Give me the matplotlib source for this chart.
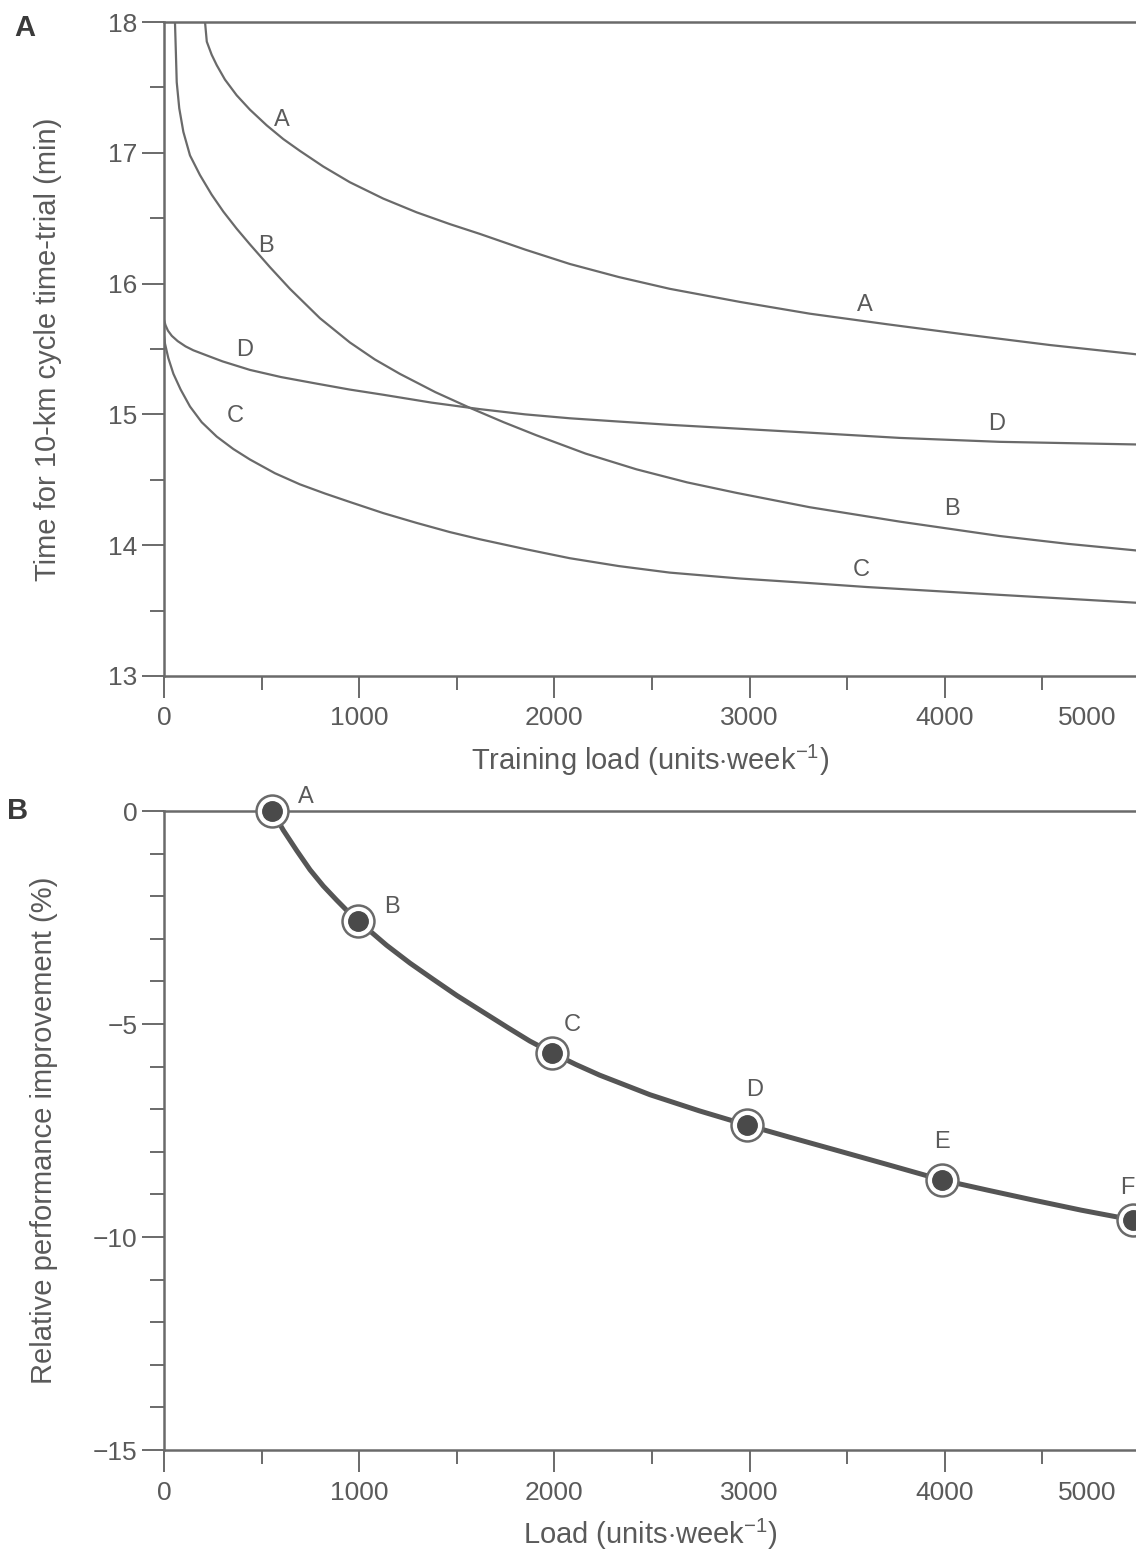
import matplotlib
matplotlib.use("Agg")

import matplotlib.pyplot as plt
from matplotlib.ticker import MultipleLocator

# ── Panel A: time-trial curves ────────────────────────────────────────────────
load_a = [210, 219, 244, 270, 312, 372, 440, 526, 611, 696, 816, 952, 1123, 1294,
          1464, 1618, 1850, 2079, 2330, 2591, 2950, 3308, 3700, 4110, 4540, 4977]
time_a = [18.0, 17.85, 17.75, 17.67, 17.56, 17.44, 17.33, 17.21, 17.105, 17.015, 16.895,
          16.775, 16.65, 16.545, 16.455, 16.38, 16.26, 16.15, 16.05, 15.96, 15.86, 15.77,
          15.69, 15.61, 15.53, 15.46]

load_b = [56, 61, 65, 78, 99, 133, 184, 244, 304, 372, 440, 543, 645, 799, 952, 1080,
          1208, 1390, 1567, 1740, 1908, 2160, 2420, 2680, 2932, 3308, 3769, 4281, 4630, 4977]
time_b = [18.0, 17.75, 17.54, 17.34, 17.16, 16.98, 16.83, 16.68, 16.55, 16.42, 16.30,
          16.125, 15.96, 15.735, 15.55, 15.42, 15.31, 15.17, 15.05, 14.94, 14.84, 14.70,
          14.58, 14.48, 14.40, 14.29, 14.18, 14.07, 14.01, 13.96]

load_c = [0, 5, 22, 48, 85, 133, 193, 270, 355, 440, 568, 696, 824, 952, 1123, 1294,
          1464, 1618, 1850, 2079, 2330, 2591, 2950, 3308, 3598, 3940, 4281, 4630, 4977]
time_c = [15.60, 15.54, 15.43, 15.31, 15.19, 15.06, 14.94, 14.83, 14.735, 14.655, 14.55,
          14.465, 14.395, 14.33, 14.245, 14.17, 14.10, 14.045, 13.97, 13.90, 13.84, 13.79,
          13.745, 13.71, 13.68, 13.65, 13.62, 13.59, 13.56]

load_d = [0, 8, 20, 40, 70, 110, 150, 220, 300, 440, 600, 782, 950, 1123, 1370, 1618,
          1850, 2079, 2330, 2591, 2950, 3308, 3769, 4281, 4977]
time_d = [15.72, 15.68, 15.64, 15.60, 15.56, 15.52, 15.49, 15.45, 15.405, 15.34, 15.285,
          15.235, 15.19, 15.15, 15.09, 15.04, 15.00, 14.97, 14.945, 14.92, 14.89, 14.86,
          14.82, 14.79, 14.77]

curve_names = ["A", "B", "C", "D"]
# two label anchors per curve (load, time)
label_load = {"A": [602, 3590], "B": [520, 4035], "C": [364, 3574], "D": [415, 4265]}
label_time = {"A": [17.25, 15.84], "B": [16.29, 14.28], "C": [14.99, 13.81], "D": [15.49, 14.93]}

# ── Panel B: relative improvement ─────────────────────────────────────────────
point_names = ["A", "B", "C", "D", "E", "F"]
point_load = [555, 995, 1990, 2985, 3985, 4965]
point_improve = [0.0, -2.58, -5.68, -7.37, -8.66, -9.60]

line_load = [555, 611, 680, 748, 816, 884, 940, 995, 1140, 1260, 1379, 1500, 1635,
             1760, 1874, 1990, 2110, 2232, 2490, 2744, 2985, 3200, 3427, 3700, 3985,
             4220, 4451, 4700, 4965]
line_improve = [0.0, -0.45, -0.93, -1.38, -1.76, -2.09, -2.35, -2.58, -3.15, -3.57,
                -3.95, -4.33, -4.72, -5.08, -5.40, -5.68, -5.95, -6.20, -6.66, -7.04,
                -7.37, -7.65, -7.94, -8.29, -8.66, -8.90, -9.13, -9.37, -9.60]

# label offsets in points (style, not data)
point_offsets = [(24, 10), (24, 10), (14, 20), (6, 25), (0, 27), (-4, 23)]

INK = "#5a5a5a"
LINE = "#6a6a6a"
DARK = "#4a4a4a"

plt.rcParams["font.family"] = ["Liberation Sans", "DejaVu Sans"]
plt.rcParams["mathtext.fontset"] = "custom"
plt.rcParams["mathtext.rm"] = "Liberation Sans"
plt.rcParams["text.color"] = INK
plt.rcParams["axes.labelcolor"] = INK
plt.rcParams["xtick.color"] = LINE
plt.rcParams["ytick.color"] = LINE
plt.rcParams["xtick.labelcolor"] = INK
plt.rcParams["ytick.labelcolor"] = INK

X_MAX = 4980
TICK_FS = 19
LABEL_FS = 21
CURVE_FS = 17


def _style_axes(ax, y_minor):
    for side in ("left", "bottom", "top"):
        ax.spines[side].set_color(LINE)
        ax.spines[side].set_linewidth(1.8)
    ax.spines["right"].set_visible(False)
    ax.set_xlim(0, X_MAX)
    ax.set_xticks([0, 1000, 2000, 3000, 4000])
    ax.xaxis.set_minor_locator(MultipleLocator(500))
    ax.yaxis.set_minor_locator(MultipleLocator(y_minor))
    ax.tick_params(which="major", direction="out", length=16, width=1.4,
                   labelsize=TICK_FS)
    ax.tick_params(which="minor", direction="out", length=10, width=1.4)
    ax.tick_params(axis="x", which="major", pad=6)
    ax.tick_params(axis="y", which="major", pad=3)
    ax.tick_params(axis="x", top=False, which="both")
    # the 5000 label sits just inside the cropped right edge
    ax.annotate("5000", xy=(0.95, 0), xycoords="axes fraction",
                xytext=(0, -22), textcoords="offset points",
                ha="center", va="top", fontsize=TICK_FS, color=INK)


fig = plt.figure(figsize=(11.36, 15.51), dpi=100)
ax_a = fig.add_axes([0.1444, 0.5642, 0.8556, 0.4216])
ax_b = fig.add_axes([0.1444, 0.0651, 0.8556, 0.4120])

# ── Panel A ───────────────────────────────────────────────────────────────────
for name, xs, ys in zip(curve_names, [load_a, load_b, load_c, load_d],
                        [time_a, time_b, time_c, time_d]):
    ax_a.plot(xs, ys, color=LINE, lw=1.6, solid_joinstyle="round")
    for lx, ly in zip(label_load[name], label_time[name]):
        ax_a.text(lx, ly, name, ha="center", va="center", fontsize=CURVE_FS, color=INK)

ax_a.set_ylim(13, 18)
ax_a.set_yticks([13, 14, 15, 16, 17, 18])
_style_axes(ax_a, 0.5)
ax_a.set_xlabel(r"Training load (units$\cdot$week$^{-1}$)", fontsize=LABEL_FS)
ax_a.xaxis.set_label_coords(0.5, -0.102)
ax_a.set_ylabel("Time for 10-km cycle time-trial (min)", fontsize=LABEL_FS)
ax_a.yaxis.set_label_coords(-0.105, 0.5)

# ── Panel B ───────────────────────────────────────────────────────────────────
ax_b.plot(line_load, line_improve, color="#555555", lw=3.6, clip_on=False,
          solid_capstyle="round", solid_joinstyle="round", zorder=3)
ax_b.plot(point_load, point_improve, "o", ms=23, mfc="white", mec=LINE,
          mew=1.8, ls="none", clip_on=False, zorder=4)
ax_b.plot(point_load, point_improve, "o", ms=14, color=DARK, ls="none",
          clip_on=False, zorder=5)
for name, px, py, off in zip(point_names, point_load, point_improve, point_offsets):
    ax_b.annotate(name, (px, py), xytext=off, textcoords="offset points",
                  ha="center", va="center", fontsize=CURVE_FS, color=INK,
                  annotation_clip=False)

ax_b.set_ylim(-15, 0)
ax_b.set_yticks([-15, -10, -5, 0])
_style_axes(ax_b, 1)
ax_b.set_xlabel(r"Load (units$\cdot$week$^{-1}$)", fontsize=LABEL_FS)
ax_b.xaxis.set_label_coords(0.5, -0.104)
ax_b.set_ylabel("Relative performance improvement (%)", fontsize=LABEL_FS)
ax_b.yaxis.set_label_coords(-0.109, 0.5)

fig.text(25 / 1136, 1 - 28 / 1551, "A", fontsize=21, fontweight="bold",
         ha="center", va="center", color="#3a3a3a")
fig.text(18 / 1136, 1 - 811 / 1551, "B", fontsize=21, fontweight="bold",
         ha="center", va="center", color="#3a3a3a")

fig.savefig("out.png", dpi=100)
plt.close(fig)
